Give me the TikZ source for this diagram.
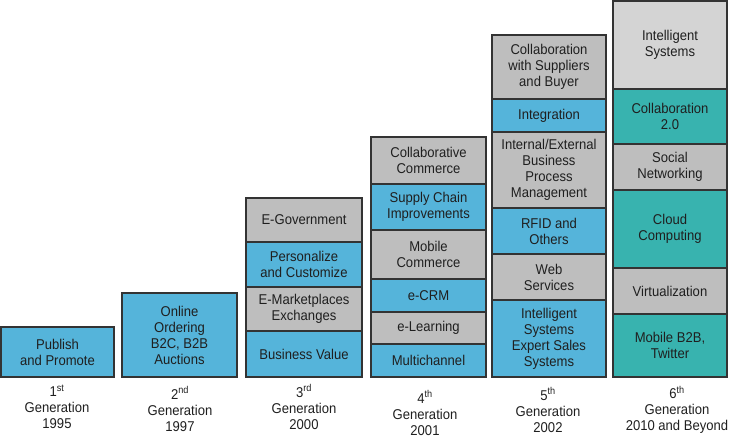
\documentclass[tikz,border=0pt]{standalone}
\usepackage{fontspec}
\setmainfont[FakeStretch=0.92]{Liberation Sans}
\definecolor{cblue}{HTML}{55B4DA}
\definecolor{cgray}{HTML}{BEBEBE}
\definecolor{clight}{HTML}{D4D4D4}
\definecolor{cteal}{HTML}{38B3AF}
\definecolor{cline}{HTML}{333333}
\tikzset{
  box/.style={draw=cline, line width=1.1pt, anchor=north west, inner sep=0pt, outer sep=0pt,
    align=center, font=\fontsize{14.2}{16}\selectfont, text=black!88},
  lbl/.style={align=center, font=\fontsize{14.2}{16}\selectfont, text=black!88, inner sep=0pt}
}
\newcommand{\bx}[7]{% name, color, x1, y1, x2, y2, text
  \node[box, fill=#2, minimum width=#5-#3, minimum height=#6-#4] (#1) at (#3,#4) {#7};}
\begin{document}
\begin{tikzpicture}[x=1pt,y=-1pt]
\useasboundingbox (0,0) rectangle (732,437);
% column 1
\bx{a1}{cblue}{1}{327}{114}{377}{Publish\\and Promote}
% column 2
\bx{b1}{cblue}{122}{293}{237}{377}{Online\\Ordering\\B2C, B2B\\Auctions}
% column 3
\bx{c1}{cgray}{246}{198}{362}{242}{E-Government}
\bx{c2}{cblue}{246}{242}{362}{287}{Personalize\\and Customize}
\bx{c3}{cgray}{246}{287}{362}{331}{E-Marketplaces\\Exchanges}
\bx{c4}{cblue}{246}{331}{362}{377}{Business Value}
% column 4
\bx{d1}{cgray}{371}{137}{486}{184}{Collaborative\\Commerce}
\bx{d2}{cblue}{371}{184}{486}{230}{Supply Chain\\Improvements}
\bx{d3}{cgray}{371}{230}{486}{279}{Mobile\\Commerce}
\bx{d4}{cblue}{371}{279}{486}{312}{e-CRM}
\bx{d5}{cgray}{371}{312}{486}{344}{e-Learning}
\bx{d6}{cblue}{371}{344}{486}{377}{Multichannel}
% column 5
\bx{e1}{cgray}{492}{35}{606}{99}{Collaboration\\with Suppliers\\and Buyer}
\bx{e2}{cblue}{492}{99}{606}{132}{Integration}
\bx{e3}{cgray}{492}{132}{606}{208}{Internal/External\\Business\\Process\\Management}
\bx{e4}{cblue}{492}{208}{606}{254}{RFID and\\Others}
\bx{e5}{cgray}{492}{254}{606}{300}{Web\\Services}
\bx{e6}{cblue}{492}{300}{606}{377}{Intelligent\\Systems\\Expert Sales\\Systems}
% column 6
\bx{f1}{clight}{613}{1}{727}{89}{Intelligent\\Systems}
\bx{f2}{cteal}{613}{89}{727}{144}{Collaboration\\2.0}
\bx{f3}{cgray}{613}{144}{727}{190}{Social\\Networking}
\bx{f4}{cteal}{613}{190}{727}{268}{Cloud\\Computing}
\bx{f5}{cgray}{613}{268}{727}{314}{Virtualization}
\bx{f6}{cteal}{613}{314}{727}{377}{Mobile B2B,\\Twitter}
% labels
\node[lbl] (l1) at (57,407) {1\textsuperscript{st}\\Generation\\1995};
\node[lbl] (l2) at (180,409) {2\textsuperscript{nd}\\Generation\\1997};
\node[lbl] (l3) at (304,407) {3\textsuperscript{rd}\\Generation\\2000};
\node[lbl] (l4) at (425,413) {4\textsuperscript{th}\\Generation\\2001};
\node[lbl] (l5) at (548,410) {5\textsuperscript{th}\\Generation\\2002};
\node[lbl] (l6) at (677,410) {6\textsuperscript{th}\\Generation\\2010 and Beyond};
\end{tikzpicture}
\end{document}
